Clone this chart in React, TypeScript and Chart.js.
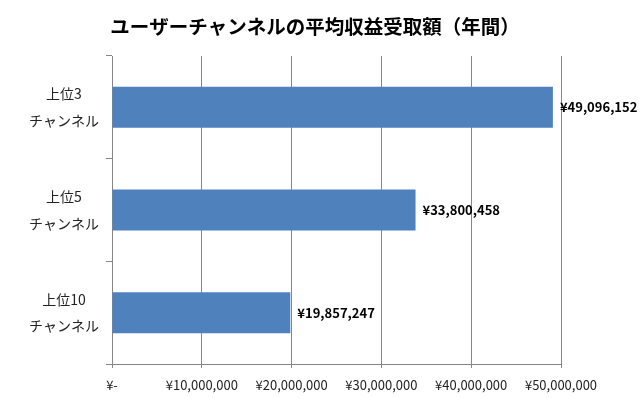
import React, { useEffect, useRef } from "react";
import { Chart, registerables } from "chart.js";

Chart.register(...registerables);

const TITLE = "ユーザーチャンネルの平均収益受取額（年間）";
const categories: string[][] = [
  ["上位3", "チャンネル"],
  ["上位5", "チャンネル"],
  ["上位10", "チャンネル"],
];
const values: number[] = [49096152, 33800458, 19857247];
const axisMin = 0;
const axisMax = 50000000;
const axisStep = 10000000;

const FONT = "'Noto Sans CJK JP', 'Noto Sans', sans-serif";
const GRID = "#868686";
const BAR = "#4F81BD";

const yen = (v: number) => (v === 0 ? "¥-" : "¥" + v.toLocaleString("en-US"));

const dataLabels = {
  id: "dataLabels",
  afterDatasetsDraw(chart: any) {
    const ctx = chart.ctx;
    const meta = chart.getDatasetMeta(0);
    ctx.save();
    ctx.font = `bold 13px ${FONT}`;
    ctx.fillStyle = "#000";
    ctx.textAlign = "left";
    ctx.textBaseline = "middle";
    meta.data.forEach((el: any, i: number) => {
      const v = chart.data.datasets[0].data[i] as number;
      ctx.fillText(yen(v), el.x + 7, el.y);
    });
    ctx.restore();
  },
};

const titlePlugin = {
  id: "centerTitle",
  afterDraw(chart: any) {
    const ctx = chart.ctx;
    ctx.save();
    ctx.font = `bold 19.5px ${FONT}`;
    ctx.fillStyle = "#000";
    ctx.textAlign = "center";
    ctx.textBaseline = "middle";
    ctx.fillText(TITLE, 315, 27);
    ctx.restore();
  },
};

export default function App() {
  const ref = useRef<HTMLCanvasElement>(null);
  useEffect(() => {
    const chart = new Chart(ref.current!, {
      type: "bar",
      data: {
        labels: categories,
        datasets: [
          {
            data: values,
            backgroundColor: BAR,
            borderWidth: 0,
            categoryPercentage: 0.8,
            barPercentage: 0.5,
          },
        ],
      },
      options: {
        indexAxis: "y",
        responsive: false,
        animation: false,
        layout: { padding: { left: 0, right: 79, bottom: 0, top: 56 } },
        plugins: {
          legend: { display: false },
          tooltip: { enabled: false },
          title: { display: false },
        },
        scales: {
          x: {
            type: "linear",
            min: axisMin,
            max: axisMax,
            afterFit: (s: any) => {
              s.height = 34;
            },
            ticks: {
              stepSize: axisStep,
              color: "#222",
              font: { family: FONT, size: 13 },
              padding: 9,
              maxRotation: 0,
              callback: (v: any) => yen(Number(v)),
            },
            grid: { color: GRID, lineWidth: 1, tickLength: 4, drawTicks: true },
            border: { color: GRID, width: 1 },
          },
          y: {
            type: "category",
            afterFit: (s: any) => {
              s.width = 112;
            },
            ticks: {
              color: "#222",
              crossAlign: "center",
              padding: 7,
              font: { family: FONT, size: 14, lineHeight: 1.9 },
            },
            grid: {
              offset: true,
              drawOnChartArea: false,
              drawTicks: true,
              tickLength: 6,
              color: GRID,
            },
            border: { color: GRID, width: 1 },
          },
        },
      },
      plugins: [dataLabels, titlePlugin],
    });
    return () => chart.destroy();
  }, []);
  return (
    <div style={{ position: "fixed", left: 0, top: 0, width: 640, height: 398, background: "#fff" }}>
      <canvas ref={ref} width={640} height={398} style={{ display: "block" }} />
    </div>
  );
}
